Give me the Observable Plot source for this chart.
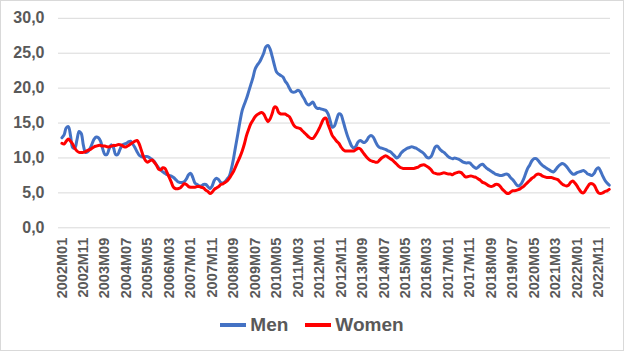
<!DOCTYPE html>
<html>
<head>
<meta charset="utf-8">
<script src="https://cdn.jsdelivr.net/npm/d3@7"></script>
<script src="https://cdn.jsdelivr.net/npm/@observablehq/plot@0.6"></script>
<style>
  html, body { margin: 0; padding: 0; background: #fff; }
  #chart { width: 624px; height: 351px; box-sizing: border-box; border: 1px solid #d9d9d9; background: #fff; overflow: hidden; }
  #chart svg text { font-weight: bold; }
  #legend { height: 48px; display: flex; justify-content: center; align-items: center; font-family: "Liberation Sans", Arial, sans-serif; font-weight: bold; font-size: 19px; color: #595959; }
  .item { display: flex; align-items: center; }
  .sw { width: 26px; height: 3.5px; margin-right: 4px; }
</style>
</head>
<body>
<div id="chart"></div>
<script>
const tickLabels = ["2002M01","2002M11","2003M09","2004M07","2005M05","2006M03","2007M01","2007M11","2008M09","2009M07","2010M05","2011M03","2012M01","2012M11","2013M09","2014M07","2015M05","2016M03","2017M01","2017M11","2018M09","2019M07","2020M05","2021M03","2022M01","2022M11"];
const seriesNames = ["Men", "Women"];
const men = [
12.9,13.3,14.3,14.5,13.2,11.5,11.4,12.6,13.8,13.5,
11.8,10.8,10.9,11.3,12.0,12.7,13.0,12.9,12.4,11.3,
10.5,10.5,11.3,11.9,11.5,10.5,10.5,11.2,11.8,12.0,
12.1,12.3,12.4,12.0,11.5,10.9,10.4,10.2,10.1,10.2,
10.2,10.0,9.8,9.5,9.0,8.6,8.3,8.0,7.8,7.6,
7.5,7.4,7.2,6.9,6.6,6.5,6.5,6.6,7.0,7.6,
7.8,7.2,6.4,6.2,6.0,6.0,6.2,6.2,5.9,5.6,
6.0,6.8,7.1,6.9,6.5,6.4,6.6,7.0,7.4,8.5,
10.0,11.8,13.5,15.3,16.8,17.7,18.5,19.5,20.5,21.5,
22.7,23.3,23.7,24.3,25.0,25.9,26.1,25.6,24.5,23.3,
22.3,22.0,21.8,21.6,21.0,20.6,20.0,19.5,19.4,19.5,
19.7,19.5,18.9,18.4,17.8,17.6,17.8,18.0,17.4,17.1,
17.1,17.0,16.9,16.8,16.3,15.3,14.4,14.6,15.5,16.3,
16.2,15.3,14.2,13.2,12.4,11.7,11.4,11.7,12.3,12.5,
12.3,12.2,12.5,13.0,13.2,13.0,12.4,11.8,11.5,11.4,
11.3,11.2,11.0,10.9,10.6,10.3,10.0,10.2,10.7,11.0,
11.2,11.4,11.5,11.6,11.5,11.4,11.2,11.0,10.8,10.5,
10.1,10.0,10.2,10.9,11.6,11.7,11.3,11.0,10.8,10.5,
10.2,10.0,9.9,10.0,9.9,9.8,9.6,9.4,9.3,9.3,
9.3,9.0,8.7,8.5,8.7,9.0,9.1,8.8,8.5,8.3,
8.1,7.9,7.7,7.6,7.5,7.5,7.6,7.7,7.6,7.2,
6.9,6.5,6.1,6.0,6.3,6.9,7.7,8.5,9.0,9.6,
9.9,9.9,9.6,9.2,8.9,8.7,8.5,8.3,8.1,8.0,
8.3,8.7,9.0,9.2,9.1,8.8,8.4,8.0,7.7,7.7,
7.9,8.0,8.1,8.2,8.0,7.7,7.6,7.5,7.8,8.4,
8.6,8.1,7.4,6.8,6.4,6.1
];
const women = [
12.1,12.0,12.4,12.7,12.4,12.0,11.4,11.0,10.8,10.8,
10.8,10.9,11.1,11.2,11.4,11.6,11.7,11.8,11.8,11.7,
11.7,11.6,11.6,11.7,11.8,11.8,11.9,11.9,11.8,11.6,
11.6,11.8,12.0,12.2,12.4,12.5,12.0,11.1,10.2,9.6,
9.4,9.6,9.7,9.4,9.0,8.4,8.3,8.6,8.5,7.9,
7.2,6.5,5.8,5.6,5.6,5.7,6.0,6.3,6.2,5.9,
5.8,5.8,5.8,5.9,5.9,5.8,5.7,5.4,5.2,4.9,
5.1,5.5,5.7,5.9,6.2,6.3,6.5,6.7,7.1,7.6,
8.1,8.8,9.5,10.2,11.0,12.0,13.2,14.1,14.9,15.4,
15.9,16.2,16.4,16.5,16.3,15.7,15.2,15.6,16.4,17.3,
17.2,16.5,16.3,16.3,16.3,16.1,15.9,15.3,14.7,14.4,
14.3,14.2,13.9,13.6,13.3,13.0,12.8,12.8,13.2,13.7,
14.3,15.0,15.6,15.7,14.8,14.0,13.2,12.8,12.4,12.1,
11.6,11.2,11.0,11.0,11.0,11.0,11.0,11.2,11.4,11.3,
10.9,10.5,10.1,9.8,9.6,9.5,9.4,9.4,9.7,10.0,
10.2,10.3,10.1,9.9,9.7,9.4,9.1,8.8,8.6,8.5,
8.5,8.5,8.5,8.5,8.5,8.6,8.7,8.9,9.0,9.0,
8.8,8.6,8.3,7.9,7.8,7.7,7.7,7.8,7.9,7.8,
7.7,7.7,7.6,7.8,7.9,8.0,7.9,7.6,7.3,7.3,
7.4,7.4,7.3,7.2,7.0,6.8,6.5,6.4,6.2,6.0,
5.9,6.0,6.2,6.2,6.0,5.6,5.3,5.0,4.9,5.1,
5.3,5.3,5.4,5.5,5.7,5.9,6.2,6.5,6.8,7.1,
7.3,7.6,7.7,7.6,7.4,7.3,7.2,7.2,7.2,7.1,
7.0,6.9,6.6,6.3,6.1,6.0,6.1,6.5,6.7,6.4,
6.0,5.5,5.1,5.0,5.4,5.9,6.3,6.3,6.1,5.5,
5.0,4.9,5.0,5.2,5.3,5.5
];
const yTicks = [0, 5, 10, 15, 20, 25, 30];
const colors = {Men: "#4472C4", Women: "#FF0000"};

const menRows = men.map((v, i) => ({i, v}));
const womenRows = women.map((v, i) => ({i, v}));
const tickPos = tickLabels.map((_, k) => k * 10);

const chart = Plot.plot({
  width: 622,
  height: 300,
  marginLeft: 57,
  marginRight: 13,
  marginTop: 16.8,
  marginBottom: 73.7,
  style: {fontFamily: "'Liberation Sans', Arial, sans-serif", background: "#fff", overflow: "visible"},
  x: {domain: [-1.6, 255.6], label: null},
  y: {domain: [0, 30], label: null},
  marks: [
    Plot.ruleY(yTicks, {stroke: "#d9d9d9", strokeWidth: 1}),
    Plot.axisY({ticks: yTicks, tickSize: 0, tickPadding: 14, fontSize: 16, color: "#595959", label: null,
      tickFormat: d => d.toFixed(1).replace(".", ",")}),
    Plot.axisX({ticks: tickPos, tickSize: 0, tickPadding: 10, tickRotate: -90, fontSize: 14.5, color: "#595959", label: null,
      tickFormat: i => tickLabels[Math.round(i / 10)]}),
    Plot.line(menRows, {x: "i", y: "v", stroke: colors.Men, strokeWidth: 3, curve: "catmull-rom"}),
    Plot.line(womenRows, {x: "i", y: "v", stroke: colors.Women, strokeWidth: 3, curve: "catmull-rom"})
  ]
});
document.getElementById("chart").appendChild(chart);

const legend = document.createElement("div");
legend.id = "legend";
seriesNames.forEach((name, k) => {
  const item = document.createElement("div");
  item.className = "item";
  if (k > 0) item.style.marginLeft = "17px";
  const sw = document.createElement("div");
  sw.className = "sw";
  sw.style.background = colors[name];
  const t = document.createElement("span");
  t.textContent = name;
  item.appendChild(sw);
  item.appendChild(t);
  legend.appendChild(item);
});
document.getElementById("chart").appendChild(legend);
</script>
</body>
</html>
